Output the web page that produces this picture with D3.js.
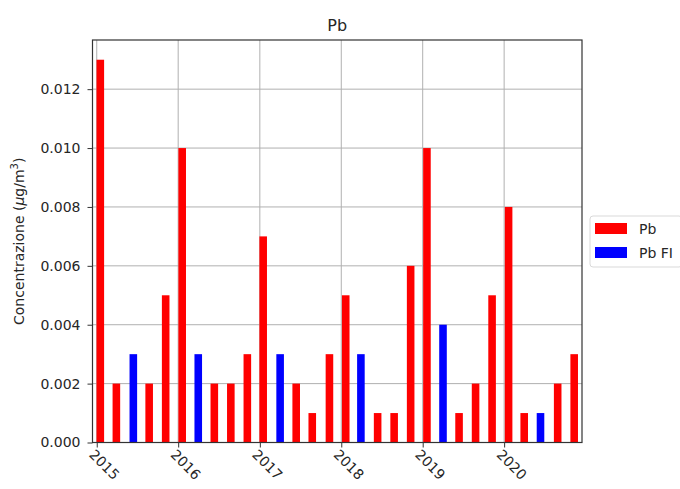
<!DOCTYPE html>
<html>
<head>
<meta charset="utf-8">
<script src="https://cdn.jsdelivr.net/npm/d3@7"></script>
<style>
  body { margin: 0; background: #fff; }
  svg text { font-family: "DejaVu Sans", sans-serif; fill: #262626; }
</style>
</head>
<body>
<div class="chart"></div>
<script>
const pbDates = [
  '2015-01-17', '2015-03-30', '2015-08-24', '2015-11-06',
  '2016-01-19', '2016-06-11', '2016-08-24', '2016-11-06',
  '2017-01-16', '2017-06-13', '2017-08-24', '2017-11-09',
  '2018-01-21', '2018-06-13', '2018-08-26', '2018-11-08',
  '2019-01-20', '2019-06-13', '2019-08-26', '2019-11-08',
  '2020-01-21', '2020-03-31', '2020-08-28', '2020-11-10'
]
const pbValues = [
  0.013, 0.002, 0.002, 0.005,
  0.010, 0.002, 0.002, 0.003,
  0.007, 0.002, 0.001, 0.003,
  0.005, 0.001, 0.001, 0.006,
  0.010, 0.001, 0.002, 0.005,
  0.008, 0.001, 0.002, 0.003
]
const pbFiDates = ['2015-06-14', '2016-03-31', '2017-04-02', '2018-03-30', '2019-04-02', '2020-06-12']
const pbFiValues = [0.003, 0.003, 0.003, 0.003, 0.004, 0.001]

const yTicks = [0, 0.002, 0.004, 0.006, 0.008, 0.010, 0.012]
const seriesNames = ['Pb', 'Pb FI']
const seriesColors = ['#ff0000', '#0000ff']

const width = 680
const height = 489
const margin = { top: 40, right: 98, bottom: 46.5, left: 92.5 }
const plotW = width - margin.left - margin.right
const plotH = height - margin.top - margin.bottom
const barDays = 34

const parse = d3.timeParse('%Y-%m-%d')

const svg = d3
  .select('.chart')
  .append('svg')
  .attr('width', width)
  .attr('height', height)

const g = svg.append('g')
  .attr('transform', `translate(${margin.left}, ${margin.top})`)

const xScale = d3
  .scaleTime()
  .domain([new Date(2014, 11, 13), new Date(2020, 11, 15)])
  .range([0, plotW])

const yScale = d3
  .scaleLinear()
  .domain([0, 0.01367])
  .range([plotH, 0])

const barW = xScale(new Date(2016, 0, 1 + barDays)) - xScale(new Date(2016, 0, 1))

// grid
const yearTicks = d3.range(2015, 2021).map(y => new Date(y, 0, 1))

g.append('g')
  .selectAll('line')
  .data(yearTicks)
  .enter()
  .append('line')
  .attr('x1', d => xScale(d))
  .attr('x2', d => xScale(d))
  .attr('y1', 0)
  .attr('y2', plotH)
  .attr('stroke', '#b0b0b0')
  .attr('stroke-width', 1)

g.append('g')
  .selectAll('line')
  .data(yTicks)
  .enter()
  .append('line')
  .attr('x1', 0)
  .attr('x2', plotW)
  .attr('y1', d => yScale(d))
  .attr('y2', d => yScale(d))
  .attr('stroke', '#b0b0b0')
  .attr('stroke-width', 1)

// bars
const series = [
  { dates: pbDates, values: pbValues },
  { dates: pbFiDates, values: pbFiValues }
]

series.forEach((s, k) => {
  g.append('g')
    .selectAll('rect')
    .data(s.values)
    .enter()
    .append('rect')
    .attr('x', (_, i) => xScale(parse(s.dates[i])) - barW / 2)
    .attr('y', d => yScale(d))
    .attr('width', barW)
    .attr('height', d => plotH - yScale(d))
    .attr('fill', seriesColors[k])
})

// axes
const xAxis = d3.axisBottom(xScale)
  .tickValues(yearTicks)
  .tickFormat(d3.timeFormat('%Y'))
  .tickSize(5)
  .tickPadding(0)

const xg = g.append('g')
  .attr('transform', `translate(0, ${plotH})`)
  .call(xAxis)
xg.select('.domain').remove()
xg.selectAll('line').attr('stroke', '#333')
xg.selectAll('text')
  .attr('font-size', 14)
  .attr('text-anchor', 'start')
  .attr('dy', null)
  .attr('y', null)
  .attr('transform', 'translate(-9, 13) rotate(45)')

const yAxis = d3.axisLeft(yScale)
  .tickValues(yTicks)
  .tickFormat(d3.format('.3f'))
  .tickSize(5)
  .tickPadding(7)

const yg = g.append('g').call(yAxis)
yg.select('.domain').remove()
yg.selectAll('line').attr('stroke', '#333')
yg.selectAll('text').attr('font-size', 14)

// frame
g.append('rect')
  .attr('width', plotW)
  .attr('height', plotH)
  .attr('fill', 'none')
  .attr('stroke', '#333')
  .attr('stroke-width', 1.2)

// title & labels
svg.append('text')
  .attr('x', margin.left + plotW / 2)
  .attr('y', 31)
  .attr('text-anchor', 'middle')
  .attr('font-size', 16)
  .text('Pb')

const yLabel = svg.append('text')
  .attr('transform', `translate(24, ${margin.top + plotH / 2}) rotate(-90)`)
  .attr('text-anchor', 'middle')
  .attr('font-size', 14)
yLabel.append('tspan').text('Concentrazione (')
yLabel.append('tspan').attr('font-style', 'italic').text('μ')
yLabel.append('tspan').text('g/m')
yLabel.append('tspan').attr('dy', -6).attr('font-size', 10).text('3')
yLabel.append('tspan').attr('dy', 6).text(')')

// legend
const legend = svg.append('g').attr('transform', 'translate(590, 216)')
legend.append('rect')
  .attr('width', 92)
  .attr('height', 51)
  .attr('rx', 3)
  .attr('fill', '#fff')
  .attr('stroke', '#d9d9d9')

seriesNames.forEach((name, i) => {
  legend.append('rect')
    .attr('x', 5)
    .attr('y', 7 + i * 24)
    .attr('width', 32)
    .attr('height', 11)
    .attr('fill', seriesColors[i])
  legend.append('text')
    .attr('x', 49)
    .attr('y', 18 + i * 24)
    .attr('font-size', 14)
    .text(name)
})
</script>
</body>
</html>
